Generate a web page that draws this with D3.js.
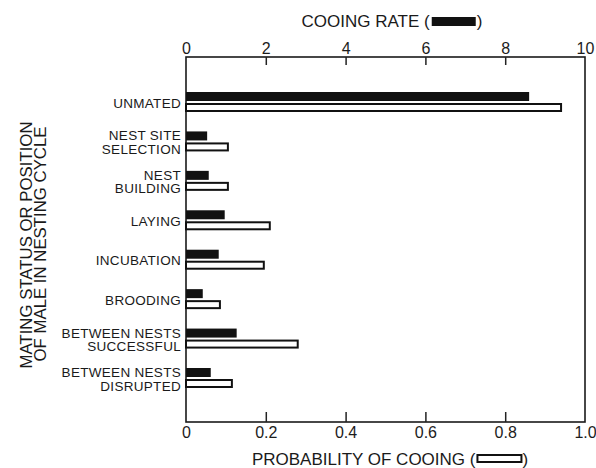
<!DOCTYPE html>
<html>
<head>
<meta charset="utf-8">
<script src="https://cdn.jsdelivr.net/npm/d3@7"></script>
<style>
  html, body { margin: 0; padding: 0; background: #fff; }
  svg { display: block; font-family: "Liberation Sans", Arial, Helvetica, sans-serif; }
  .tick text { fill: #1c1c1c; }
  .tick line { stroke: #222; stroke-width: 1.5; }
</style>
</head>
<body>
<svg id="chart" width="596" height="468"></svg>
<script>
// Mating status categories, each split into its printed lines
const categoryLines = [
  ["UNMATED"],
  ["NEST SITE", "SELECTION"],
  ["NEST", "BUILDING"],
  ["LAYING"],
  ["INCUBATION"],
  ["BROODING"],
  ["BETWEEN NESTS", "SUCCESSFUL"],
  ["BETWEEN NESTS", "DISRUPTED"]
];
const cooingRate = [8.6, 0.53, 0.57, 0.97, 0.82, 0.42, 1.27, 0.62];
const cooingProbability = [0.94, 0.105, 0.105, 0.21, 0.195, 0.085, 0.28, 0.115];
const rateTicks = [0, 2, 4, 6, 8, 10];
const probabilityTicks = [0, 0.2, 0.4, 0.6, 0.8, 1.0];
const probabilityTickLabels = ["0", "0.2", "0.4", "0.6", "0.8", "1.0"];

const ink = "#1a1a1a";
const frame = { left: 186, right: 585, top: 57, bottom: 422 };
const svg = d3.select("#chart");

const categories = categoryLines.map(function joinLines(lines) { return lines.join(" "); });

const rateScale = d3.scaleLinear().domain([0, 10]).range([frame.left, frame.right]);
const probScale = d3.scaleLinear().domain([0, 1]).range([frame.left, frame.right]);
const yScale = d3.scalePoint().domain(categories).range([102, 378]);

const barHeight = 9;
const barGap = 2;

// Frame box
svg.append("rect")
  .attr("x", frame.left)
  .attr("y", frame.top)
  .attr("width", frame.right - frame.left)
  .attr("height", frame.bottom - frame.top)
  .attr("fill", "none")
  .attr("stroke", ink)
  .attr("stroke-width", 1.6);

// Top axis: cooing rate, ticks pointing into the frame
const topAxis = svg.append("g")
  .attr("transform", "translate(0," + frame.top + ")")
  .call(d3.axisTop(rateScale).tickValues(rateTicks).tickSizeInner(-8).tickSizeOuter(0).tickPadding(3).tickFormat(d3.format("d")));
topAxis.select(".domain").remove();
topAxis.selectAll(".tick text").attr("font-size", 16);

// Bottom axis: probability of cooing
const bottomAxis = svg.append("g")
  .attr("transform", "translate(0," + frame.bottom + ")")
  .call(d3.axisBottom(probScale).tickValues(probabilityTicks).tickSizeInner(-10).tickSizeOuter(0).tickPadding(5)
    .tickFormat(function label(d, i) { return probabilityTickLabels[i]; }));
bottomAxis.select(".domain").remove();
bottomAxis.selectAll(".tick text").attr("font-size", 16);

// No tick marks at the corners of the frame
[topAxis, bottomAxis].forEach(function hideCornerTicks(axis) {
  axis.selectAll(".tick line").filter(function atEdge(d) {
    return d === 0 || d === 10 || d === 1;
  }).remove();
});

// Black bars: cooing rate
svg.selectAll(".rate-bar")
  .data(cooingRate)
  .enter()
  .append("rect")
  .attr("class", "rate-bar")
  .attr("x", rateScale(0))
  .attr("y", function positionY(d, i) { return yScale(categories[i]) - barHeight - barGap / 2; })
  .attr("width", function barWidth(d) { return rateScale(d) - rateScale(0); })
  .attr("height", barHeight)
  .attr("fill", "#111");

// Open bars: probability of cooing
svg.selectAll(".prob-bar")
  .data(cooingProbability)
  .enter()
  .append("rect")
  .attr("class", "prob-bar")
  .attr("x", probScale(0))
  .attr("y", function positionY(d, i) { return yScale(categories[i]) + barGap / 2 + 1; })
  .attr("width", function barWidth(d) { return probScale(d) - probScale(0); })
  .attr("height", barHeight - 2)
  .attr("fill", "#fff")
  .attr("stroke", "#111")
  .attr("stroke-width", 2);

// Category labels, right aligned against the frame
const labelGroups = svg.selectAll(".category-label")
  .data(categoryLines)
  .enter()
  .append("text")
  .attr("class", "category-label")
  .attr("text-anchor", "end")
  .attr("font-size", 13.5)
  .attr("letter-spacing", 0.3)
  .attr("fill", ink);

labelGroups.each(function addLines(lines, i) {
  const center = yScale(categories[i]);
  const text = d3.select(this);
  lines.forEach(function addLine(line, j) {
    const baseline = lines.length === 1 ? center + 5.5 : center - 1 + j * 13.5;
    text.append("tspan").attr("x", 181).attr("y", baseline).text(line);
  });
});

// Y axis title, two rotated lines
const yTitleLines = ["MATING STATUS OR POSITION", "OF MALE IN NESTING CYCLE"];
const yTitleX = [32, 46];
const yTitleY = [245, 244];
yTitleLines.forEach(function addTitle(line, i) {
  svg.append("text")
    .attr("transform", "translate(" + yTitleX[i] + "," + yTitleY[i] + ") rotate(-90)")
    .attr("text-anchor", "middle")
    .attr("font-size", 16.8)
    .attr("fill", ink)
    .text(line);
});

// Axis title with an inline swatch: "TEXT (" [swatch] ")"
function swatchTitle(label, centerX, baseline, filled) {
  const g = svg.append("g");
  const left = g.append("text").attr("font-size", 17).attr("fill", ink).attr("y", baseline).text(label + " (");
  const right = g.append("text").attr("font-size", 17).attr("fill", ink).attr("y", baseline).text(")");
  const w1 = left.node().getComputedTextLength();
  const w2 = right.node().getComputedTextLength();
  const swatchW = 44;
  const total = w1 + 2 + swatchW + 1 + w2;
  const start = centerX - total / 2;
  left.attr("x", start);
  g.append("rect")
    .attr("x", start + w1 + 2)
    .attr("y", baseline - 10)
    .attr("width", swatchW)
    .attr("height", filled ? 9 : 7)
    .attr("fill", filled ? "#111" : "#fff")
    .attr("stroke", "#111")
    .attr("stroke-width", filled ? 0 : 2);
  right.attr("x", start + w1 + 2 + swatchW + 1);
}

swatchTitle("COOING RATE", 392, 27, true);
swatchTitle("PROBABILITY OF COOING", 390, 465, false);
</script>
</body>
</html>
